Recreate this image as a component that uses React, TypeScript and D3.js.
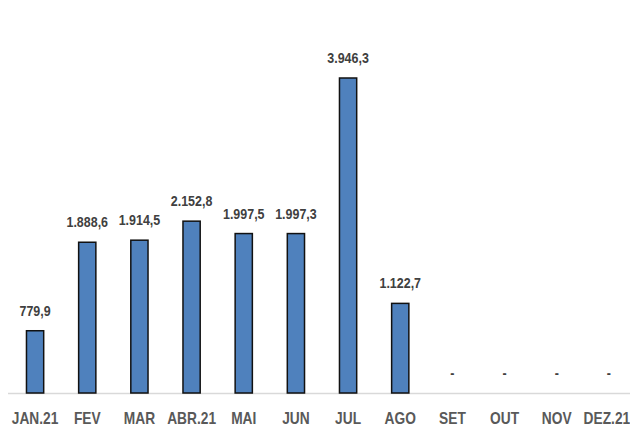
import React from "react";
import * as d3 from "d3";

const months = ["JAN.21", "FEV", "MAR", "ABR.21", "MAI", "JUN", "JUL", "AGO", "SET", "OUT", "NOV", "DEZ.21"];
const values: (number | null)[] = [779.9, 1888.6, 1914.5, 2152.8, 1997.5, 1997.3, 3946.3, 1122.7, null, null, null, null];
const labels = ["779,9", "1.888,6", "1.914,5", "2.152,8", "1.997,5", "1.997,3", "3.946,3", "1.122,7", "-", "-", "-", "-"];

const W = 630, H = 432;
const baseY = 393;
const topY = 78;
const font = "'Liberation Sans', Arial, sans-serif";

export default function App() {
  const x = d3.scaleBand<string>().domain(months).range([9, 635]).paddingInner(0.67).paddingOuter(0.335);
  const y = d3.scaleLinear().domain([0, 3946.3]).range([baseY, topY]);
  return (
    <svg width={W} height={H} style={{ position: "absolute", left: 0, top: 0, background: "#fff" }}>
      <line x1={8} x2={630} y1={baseY + 0.5} y2={baseY + 0.5} stroke="#d9d9d9" strokeWidth={1.5} />
      {months.map((m, i) => {
        const v = values[i];
        const cx = (x(m) as number) + x.bandwidth() / 2;
        const top = v == null ? baseY : y(v);
        const lx = i === months.length - 1 ? cx - 2 : cx;
        return (
          <g key={m}>
            {v != null && (
              <rect x={x(m)} y={top} width={x.bandwidth()} height={baseY - top} fill="#4F81BD" stroke="#111" strokeWidth={1.5} />
            )}
            <text transform={`translate(${cx},${top - 15}) scale(0.86,1)`} textAnchor="middle" fontFamily={font} fontWeight="bold" fontSize={14.5} fill="#404040">
              {labels[i]}
            </text>
            <text transform={`translate(${lx},${424}) scale(0.86,1)`} textAnchor="middle" fontFamily={font} fontWeight="bold" fontSize={16} fill="#595959">
              {m}
            </text>
          </g>
        );
      })}
    </svg>
  );
}
